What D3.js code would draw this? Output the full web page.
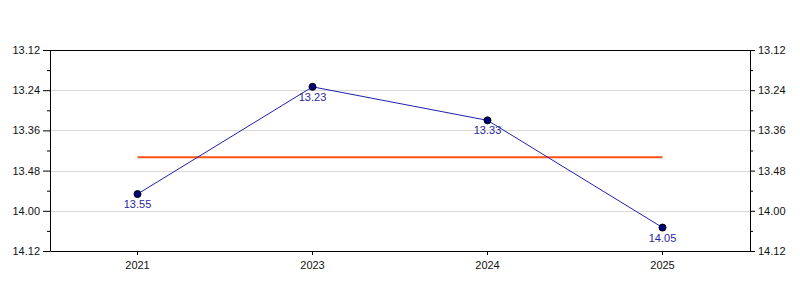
<!DOCTYPE html>
<html>
<head>
<meta charset="utf-8">
<script src="https://cdn.jsdelivr.net/npm/d3@7"></script>
<style>
  body { margin: 0; background: #fff; }
  svg { display: block; font-family: "Liberation Sans", Arial, sans-serif; }
</style>
</head>
<body>
<svg id="chart" width="800" height="300"></svg>
<script>
// race times written as minutes.seconds
const years = ["2021", "2023", "2024", "2025"];
const times = ["13.55", "13.23", "13.33", "14.05"];
const yTicks = ["13.12", "13.24", "13.36", "13.48", "14.00", "14.12"];
const yMinorTicks = ["13.18", "13.30", "13.42", "13.54", "14.06"];

const toSec = (t) => {
  const [m, s] = t.split(".");
  return +m * 60 + +s;
};
const fmt = (v) => {
  const m = Math.floor(v / 60);
  const s = Math.round(v - m * 60);
  return m + "." + String(s).padStart(2, "0");
};

const margin = { top: 50, right: 50, bottom: 49, left: 50 };
const width = 800 - margin.left - margin.right;
const height = 300 - margin.top - margin.bottom;

const svg = d3.select("#chart");
const g = svg.append("g").attr("transform", `translate(${margin.left},${margin.top})`);

const x = d3.scaleBand().domain(years).range([0, width]);
const y = d3
  .scaleLinear()
  .domain([toSec(yTicks[0]), toSec(yTicks[yTicks.length - 1])])
  .range([0, height]);

const data = years.map((yr, i) => ({ year: yr, label: times[i], v: toSec(times[i]) }));
const mean = d3.mean(data, (d) => d.v);

// grid lines
g.append("g")
  .selectAll("line")
  .data(yTicks.slice(1, -1))
  .enter()
  .append("line")
  .attr("x1", 0)
  .attr("x2", width)
  .attr("y1", (d) => Math.round(y(toSec(d))) + 0.5)
  .attr("y2", (d) => Math.round(y(toSec(d))) + 0.5)
  .attr("stroke", "#d9d9d9")
  .attr("stroke-width", 1);

// axes
const styleAxis = (sel) => {
  sel.selectAll("text").attr("fill", "#111").style("font-size", "11px");
  sel.selectAll("line").attr("stroke", "#000");
  sel.select(".domain").attr("stroke", "#000");
};

const yVals = yTicks.map(toSec);
const yMinor = yMinorTicks.map(toSec);

g.append("g")
  .call(d3.axisLeft(y).tickValues(yMinor).tickSize(3).tickFormat(""))
  .call((s) => s.select(".domain").remove())
  .call(styleAxis);
g.append("g")
  .call(d3.axisLeft(y).tickValues(yVals).tickSize(7).tickSizeOuter(0).tickPadding(3).tickFormat(fmt))
  .call(styleAxis);

g.append("g")
  .attr("transform", `translate(${width},0)`)
  .call(d3.axisRight(y).tickValues(yMinor).tickSize(3).tickFormat(""))
  .call((s) => s.select(".domain").remove())
  .call(styleAxis);
g.append("g")
  .attr("transform", `translate(${width},0)`)
  .call(d3.axisRight(y).tickValues(yVals).tickSize(5).tickSizeOuter(0).tickPadding(3).tickFormat(fmt))
  .call(styleAxis);

g.append("g")
  .attr("transform", `translate(0,${height})`)
  .call(d3.axisBottom(x).tickSize(4).tickSizeOuter(0).tickPadding(6))
  .call(styleAxis);

g.append("line")
  .attr("x1", 0)
  .attr("x2", width)
  .attr("y1", 0.5)
  .attr("y2", 0.5)
  .attr("stroke", "#000");

// mean line
const cx = (d) => x(d) + x.bandwidth() / 2;
g.append("line")
  .attr("x1", cx(years[0]))
  .attr("x2", cx(years[years.length - 1]))
  .attr("y1", y(mean))
  .attr("y2", y(mean))
  .attr("stroke", "#ff5214")
  .attr("stroke-width", 2);

// series line
g.append("path")
  .datum(data)
  .attr("fill", "none")
  .attr("stroke", "#2020b0")
  .attr("stroke-width", 1)
  .attr("d", d3.line().x((d) => cx(d.year)).y((d) => y(d.v)));

g.append("g")
  .selectAll("circle")
  .data(data)
  .enter()
  .append("circle")
  .attr("cx", (d) => cx(d.year))
  .attr("cy", (d) => y(d.v))
  .attr("r", 3.5)
  .attr("fill", "#000080")
  .attr("stroke", "#000")
  .attr("stroke-width", 1);

g.append("g")
  .selectAll("text")
  .data(data)
  .enter()
  .append("text")
  .attr("x", (d) => cx(d.year))
  .attr("y", (d) => y(d.v) + 14)
  .attr("text-anchor", "middle")
  .attr("fill", "#2828a0")
  .style("font-size", "11px")
  .text((d) => d.label);
</script>
</body>
</html>
